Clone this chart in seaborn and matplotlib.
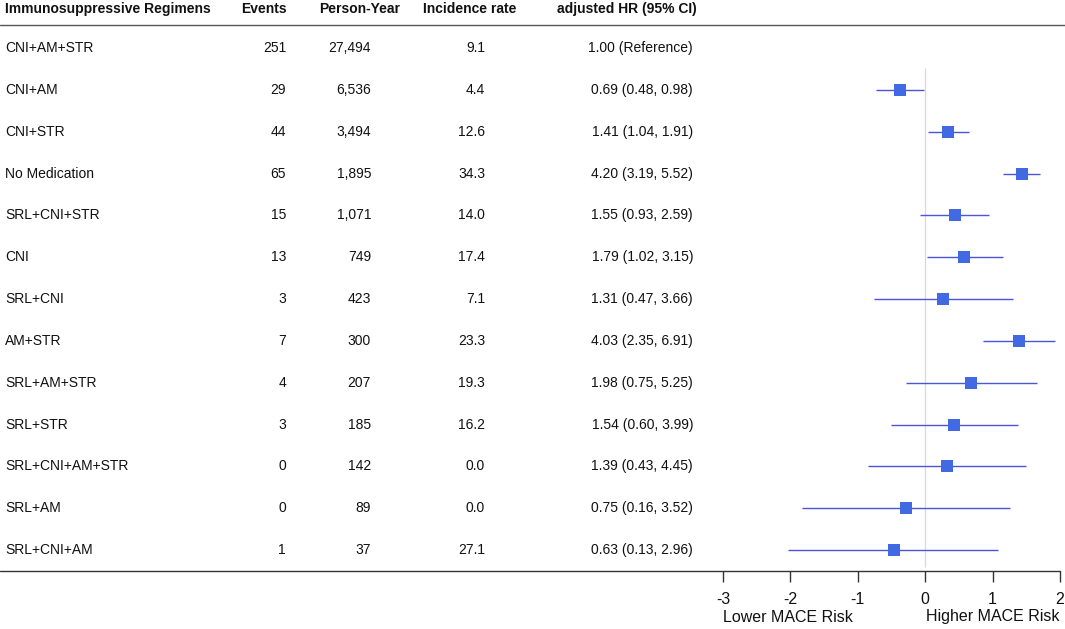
import numpy as np
import pandas as pd
import seaborn as sns
import matplotlib.pyplot as plt
import matplotlib.transforms as mtransforms
from matplotlib.lines import Line2D

regimens = ['CNI+AM+STR', 'CNI+AM', 'CNI+STR', 'No Medication', 'SRL+CNI+STR', 'CNI',
            'SRL+CNI', 'AM+STR', 'SRL+AM+STR', 'SRL+STR', 'SRL+CNI+AM+STR', 'SRL+AM',
            'SRL+CNI+AM']
events = [251, 29, 44, 65, 15, 13, 3, 7, 4, 3, 0, 0, 1]
person_year = [27494, 6536, 3494, 1895, 1071, 749, 423, 300, 207, 185, 142, 89, 37]
incidence = [9.1, 4.4, 12.6, 34.3, 14.0, 17.4, 7.1, 23.3, 19.3, 16.2, 0.0, 0.0, 27.1]
hr = [1.00, 0.69, 1.41, 4.20, 1.55, 1.79, 1.31, 4.03, 1.98, 1.54, 1.39, 0.75, 0.63]
hr_lo = [np.nan, 0.48, 1.04, 3.19, 0.93, 1.02, 0.47, 2.35, 0.75, 0.60, 0.43, 0.16, 0.13]
hr_hi = [np.nan, 0.98, 1.91, 5.52, 2.59, 3.15, 3.66, 6.91, 5.25, 3.99, 4.45, 3.52, 2.96]
x_ticks = [-3, -2, -1, 0, 1, 2]

df = pd.DataFrame({'regimen': regimens, 'events': events, 'py': person_year,
                   'ir': incidence, 'hr': hr, 'lo': hr_lo, 'hi': hr_hi})
df['row'] = np.arange(len(df))
df['loghr'] = np.log(df['hr'])
plot_df = df[df['lo'].notna()]

sns.set_style('white')
plt.rcParams['font.family'] = ['Liberation Sans', 'DejaVu Sans']
plt.rcParams['text.color'] = '#111111'
plt.rcParams['xtick.color'] = '#111111'

W, H = 1065, 629
fig = plt.figure(figsize=(W / 100, H / 100), dpi=100)
ax = fig.add_axes([723 / W, 1 - 571 / H, (1060 - 723) / W, (571 - 25) / H])

blue = '#4169e1'
ax.hlines(plot_df['row'], np.log(plot_df['lo']), np.log(plot_df['hi']),
          color='#4a55d8', lw=1, zorder=2)
sns.scatterplot(data=plot_df, x='loghr', y='row', marker='s', s=70, color=blue,
                edgecolor=blue, linewidth=0, ax=ax, zorder=3)
ax.vlines(0, 0.48, 12.4, color='#d9d9d9', lw=0.9, zorder=1)

ax.set_xlim(-3, 2)
ax.set_ylim(12.5, -0.55)
ax.set_xticks(x_ticks)
ax.set_xticklabels([str(t) for t in x_ticks])
ax.set_yticks([])
ax.set_xlabel('')
ax.set_ylabel('')
for s in ['top', 'right', 'left', 'bottom']:
    ax.spines[s].set_visible(False)
ax.tick_params(axis='x', direction='out', length=8, width=1, color='#333333',
               labelsize=11.5, pad=7, bottom=True)

# full-width rules
fig.add_artist(Line2D([0, 1], [1 - 25 / H] * 2, color='#555555', lw=1))
fig.add_artist(Line2D([0, 1060 / W], [1 - 571 / H] * 2, color='#333333', lw=1))

# table text
tr = mtransforms.blended_transform_factory(fig.transFigure, ax.transData)
fs = 10
head_y = -0.93
hdr = dict(fontsize=fs, fontweight='bold', va='center', transform=tr, clip_on=False)
ax.text(5 / W, head_y, 'Immunosuppressive Regimens', ha='left', **hdr)
ax.text(287 / W, head_y, 'Events', ha='right', **hdr)
ax.text(400 / W, head_y, 'Person-Year', ha='right', **hdr)
ax.text(516 / W, head_y, 'Incidence rate', ha='right', **hdr)
ax.text(697 / W, head_y, 'adjusted HR (95% CI)', ha='right', **hdr)

cell = dict(fontsize=fs, va='center', transform=tr, clip_on=False)
for _, r in df.iterrows():
    y = r['row']
    ax.text(5 / W, y, r['regimen'], ha='left', **cell)
    ax.text(286 / W, y, f"{r['events']}", ha='right', **cell)
    ax.text(371 / W, y, f"{r['py']:,}", ha='right', **cell)
    ax.text(485 / W, y, f"{r['ir']:.1f}", ha='right', **cell)
    if np.isnan(r['lo']):
        txt = f"{r['hr']:.2f} (Reference)"
    else:
        txt = f"{r['hr']:.2f} ({r['lo']:.2f}, {r['hi']:.2f})"
    ax.text(693 / W, y, txt, ha='right', **cell)

lab_tr = mtransforms.blended_transform_factory(ax.transAxes, fig.transFigure)
ax.text(0, 1 - 617 / H, 'Lower MACE Risk', ha='left', va='center', fontsize=11.5,
        transform=lab_tr, clip_on=False)
ax.text(1, 1 - 617 / H, 'Higher MACE Risk', ha='right', va='center', fontsize=11.5,
        transform=lab_tr, clip_on=False)

fig.savefig('out.png', dpi=100)
